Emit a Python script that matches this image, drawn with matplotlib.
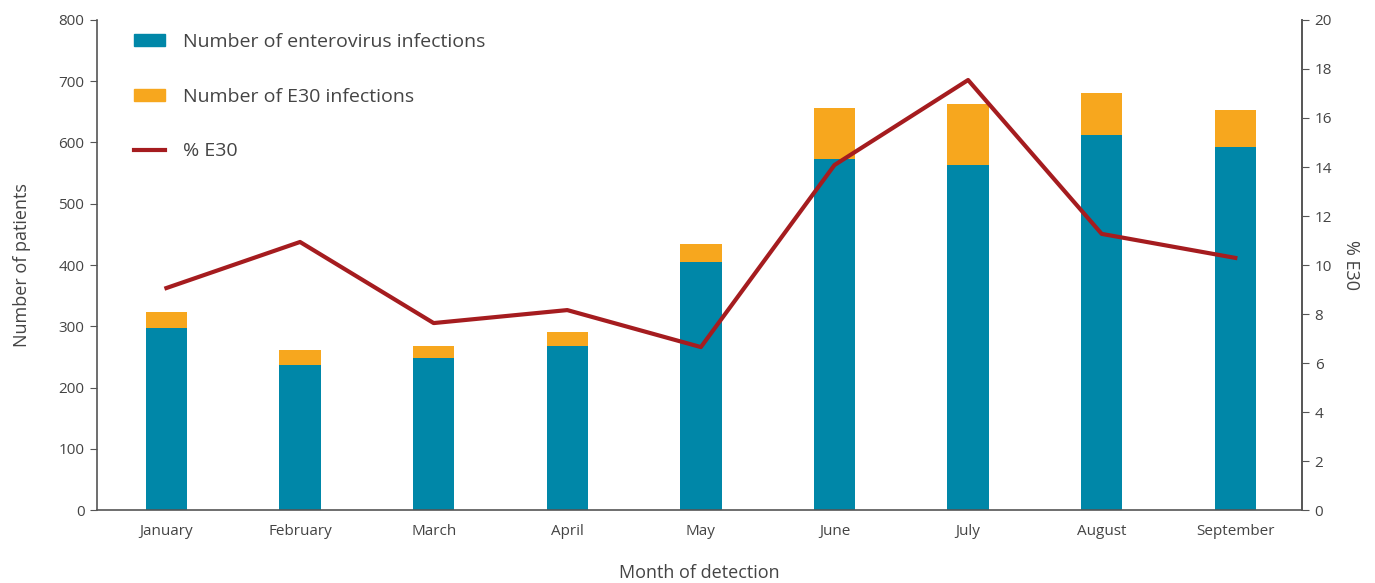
import matplotlib
matplotlib.use("Agg")
import matplotlib.pyplot as plt
from matplotlib.patches import Patch
from matplotlib.lines import Line2D

months = ["January", "February", "March", "April", "May", "June", "July", "August", "September"]
enterovirus = [297, 237, 248, 268, 405, 573, 563, 612, 593]
e30 = [26, 24, 20, 23, 29, 83, 100, 69, 60]
pct_e30 = [9.06, 10.94, 7.63, 8.16, 6.65, 14.08, 17.55, 11.27, 10.29]

BLUE = "#0087A8"
ORANGE = "#F7A71E"
RED = "#A51C1F"
AXC = "#555555"
TXT = "#444444"

plt.rcParams['font.family'] = ['Open Sans', 'DejaVu Sans']

fig = plt.figure(figsize=(13.75, 5.83), dpi=100)
ax = fig.add_axes([0.0705, 0.1252, 0.8765, 0.8405])
x = list(range(len(months)))
ax.bar(x, enterovirus, width=0.31, color=BLUE, zorder=2)
ax.bar(x, e30, width=0.31, bottom=enterovirus, color=ORANGE, zorder=2)
ax.set_ylim(0, 800)
ax.set_xlim(-0.52, 8.5)
ax.set_yticks(range(0, 801, 100))
ax.set_xticks(x)
ax.set_xticklabels(months)
ax.tick_params(axis='x', length=0, pad=10, labelsize=11, colors=TXT)
ax.tick_params(axis='y', length=5, color=AXC, labelsize=11, labelcolor=TXT, pad=4)
ax.spines['top'].set_visible(False)
for s in ['left', 'bottom', 'right']:
    ax.spines[s].set_color(AXC)
    ax.spines[s].set_linewidth(1.2)
ax.set_ylabel("Number of patients", fontsize=13, color=TXT, labelpad=20)
ax.set_xlabel("Month of detection", fontsize=13, color=TXT, labelpad=18)

ax2 = ax.twinx()
ax2.plot(x, pct_e30, color=RED, lw=3, zorder=3)
ax2.set_ylim(0, 20)
ax2.set_yticks(range(0, 21, 2))
ax2.tick_params(axis='y', length=5, color=AXC, labelsize=11, labelcolor=TXT, pad=4)
ax2.spines['top'].set_visible(False)
ax2.spines['right'].set_color(AXC)
ax2.spines['right'].set_linewidth(1.2)
ax2.spines['left'].set_visible(False)
ax2.spines['bottom'].set_visible(False)
ax2.set_ylabel("% E30", fontsize=13, color=TXT, rotation=270, labelpad=20)

handles = [Patch(color=BLUE), Patch(color=ORANGE), Line2D([0], [0], color=RED, lw=3)]
labels = ["Number of enterovirus infections", "Number of E30 infections", "% E30"]
leg = ax.legend(handles, labels, loc='upper left', bbox_to_anchor=(0.016, 1.01), frameon=False,
                fontsize=14, labelspacing=1.9, handlelength=1.6, handleheight=0.6, handletextpad=0.95)
for t in leg.get_texts():
    t.set_color(TXT)

fig.savefig("out.png", dpi=100)
